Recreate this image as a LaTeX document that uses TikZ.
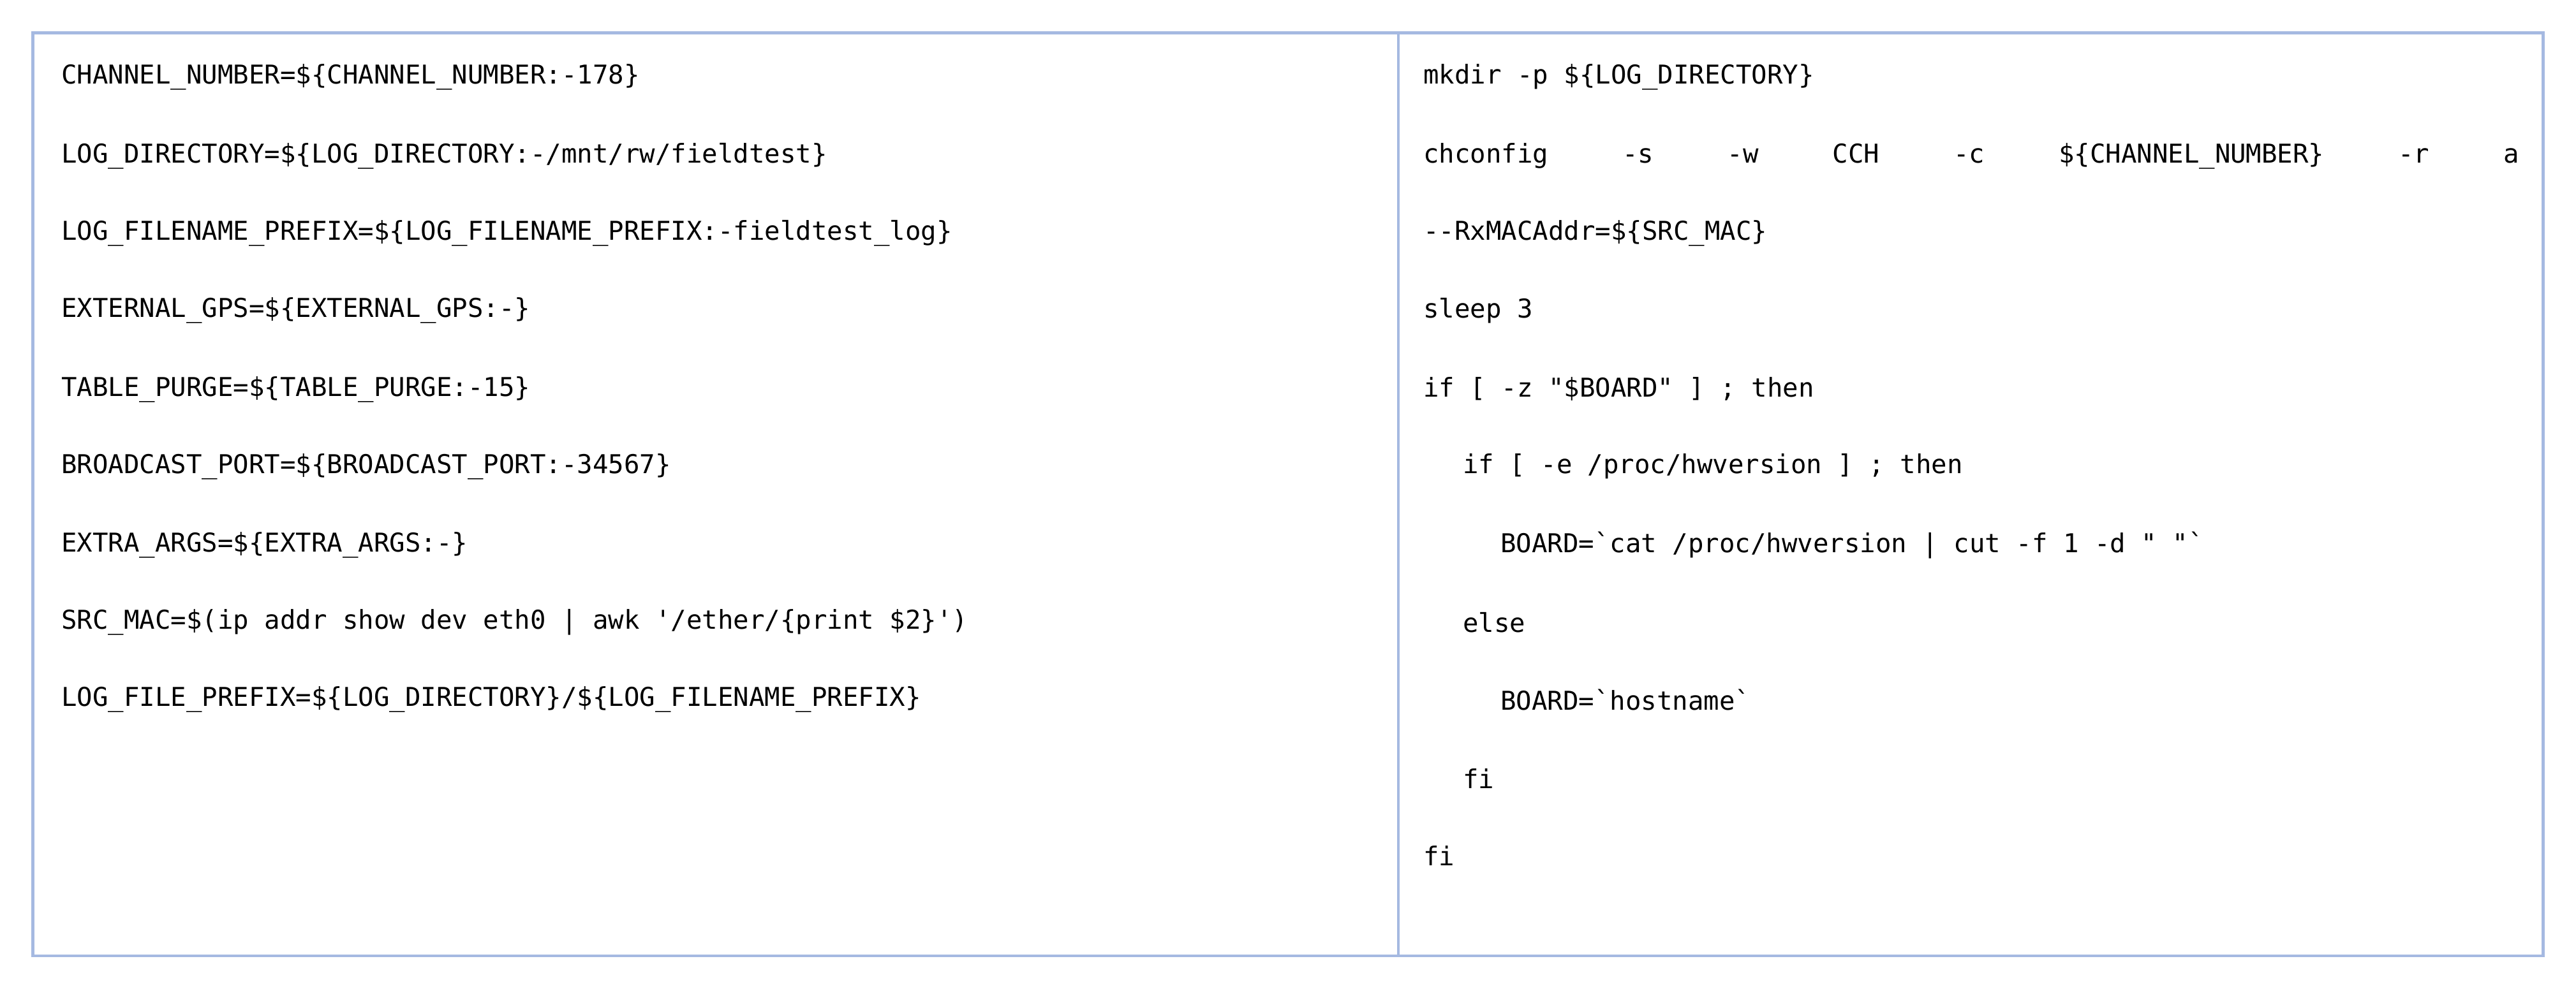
\documentclass[tikz,border=0pt]{standalone}
\usepackage{fontspec}
\setmonofont{DejaVu Sans Mono}
\definecolor{frame}{RGB}{165,185,225}
\begin{document}
\begin{tikzpicture}[x=0.5pt,y=-0.5pt,
  code/.style={anchor=west,inner sep=0pt,font=\ttfamily\fontsize{7.9}{9}\selectfont}]
\useasboundingbox (0,0) rectangle (1568,602);
\fill[white] (0,0) rectangle (1568,602);
\draw[frame,line width=0.8pt] (20,20) rectangle (1548,582);
\draw[frame,line width=0.8pt] (851,20) -- (851,582);
\def\g{\hspace{22.5pt}}
\node[code] (l1) at (37,47) {CHANNEL\_NUMBER=\$\{CHANNEL\_NUMBER:-178\}};
\node[code] (l2) at (37,95) {LOG\_DIRECTORY=\$\{LOG\_DIRECTORY:-/mnt/rw/fieldtest\}};
\node[code] (l3) at (37,142) {LOG\_FILENAME\_PREFIX=\$\{LOG\_FILENAME\_PREFIX:-fieldtest\_log\}};
\node[code] (l4) at (37,189) {EXTERNAL\_GPS=\$\{EXTERNAL\_GPS:-\}};
\node[code] (l5) at (37,237) {TABLE\_PURGE=\$\{TABLE\_PURGE:-15\}};
\node[code] (l6) at (37,284) {BROADCAST\_PORT=\$\{BROADCAST\_PORT:-34567\}};
\node[code] (l7) at (37,332) {EXTRA\_ARGS=\$\{EXTRA\_ARGS:-\}};
\node[code] (l8) at (37,379) {SRC\_MAC=\$(ip addr show dev eth0 | awk '/ether/\{print \$2\}')};
\node[code] (l9) at (37,426) {LOG\_FILE\_PREFIX=\$\{LOG\_DIRECTORY\}/\$\{LOG\_FILENAME\_PREFIX\}};
\node[code] (r1) at (866,47) {mkdir -p \$\{LOG\_DIRECTORY\}};
\node[code] (r2) at (866,95) {chconfig\g-s\g-w\g CCH\g-c\g\$\{CHANNEL\_NUMBER\}\g-r\g a};
\node[code] (r3) at (866,142) {--RxMACAddr=\$\{SRC\_MAC\}};
\node[code] (r4) at (866,189) {sleep 3};
\node[code] (r5) at (866,237) {if [ -z "\$BOARD" ] ; then};
\node[code] (r6) at (890,284) {if [ -e /proc/hwversion ] ; then};
\node[code] (r7) at (913,332) {BOARD=`cat /proc/hwversion | cut -f 1 -d " "`};
\node[code] (r8) at (890,379) {else};
\node[code] (r9) at (913,426) {BOARD=`hostname`};
\node[code] (r10) at (890,474) {fi};
\node[code] (r11) at (866,521) {fi};
\end{tikzpicture}
\end{document}
